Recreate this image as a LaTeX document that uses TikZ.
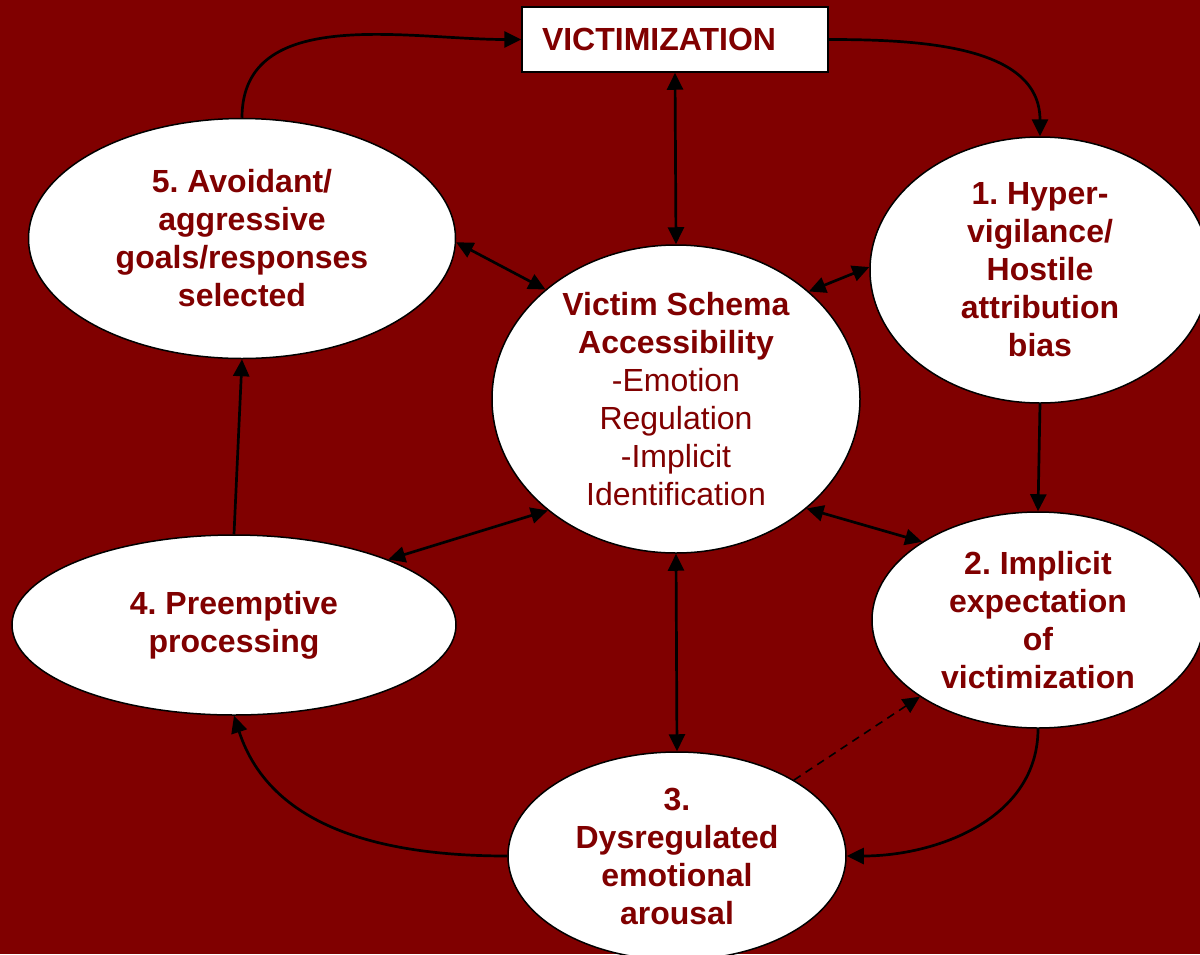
\documentclass[tikz,border=0pt]{standalone}
\usepackage{fontspec}
\setmainfont{Liberation Sans}
\usetikzlibrary{shapes.geometric, arrows.meta}
\definecolor{vred}{RGB}{128,0,0}
\frenchspacing
\begin{document}
\begin{tikzpicture}[x=1pt, y=-1pt, >={Triangle[length=17pt, width=16pt]}]
\fill[vred] (0,0) rectangle (1200,954);
\useasboundingbox (0,0) rectangle (1200,954);
\begin{scope}[every node/.style={draw=black, fill=white, line width=1.5pt, text=vred, font=\fontsize{32}{38}\selectfont\bfseries}]
    \node[rectangle, minimum width=306pt, minimum height=65pt, inner xsep=20pt, text width=266pt, align=left] (victim) at (675,39.5) {VICTIMIZATION};
    \node[ellipse, minimum width=368pt, minimum height=308pt, inner sep=0pt, inner ysep=-10pt, align=center, font=\fontsize{32}{38}\selectfont] (schema) at (676,399) {\textbf{Victim Schema}\\\textbf{Accessibility}\\-Emotion\\Regulation\\-Implicit\\Identification};
    \node[ellipse, minimum width=340pt, minimum height=266pt, inner sep=0pt, align=center] (s1) at (1040,270) {1. Hyper-\\vigilance/\\Hostile\\attribution\\bias};
    \node[ellipse, minimum width=332pt, minimum height=216pt, inner sep=0pt, align=center] (s2) at (1038,620) {2. Implicit\\expectation\\of\\victimization};
    \node[ellipse, minimum width=338pt, minimum height=208pt, inner sep=0pt, align=center] (s3) at (677,856) {3.\\Dysregulated\\emotional\\arousal};
    \node[ellipse, minimum width=444pt, minimum height=180pt, inner sep=0pt, align=center] (s4) at (234,625) {4. Preemptive\\processing};
    \node[ellipse, minimum width=427pt, minimum height=240pt, inner sep=0pt, align=center] (s5) at (242,238.5) {5. Avoidant/\\aggressive\\goals/responses\\selected};
\end{scope}
\begin{scope}[every edge/.style={draw=black, line width=2.7pt}]
    % the cycle
    \path (victim.east) edge[->, out=0, in=90] (s1.north);
    \path (s1.south) edge[->] (s2.north);
    \path (s2.south) edge[->, out=-90, in=0] (s3.east);
    \path (s3.west) edge[->, out=180, in=-72] (s4.south);
    \path (s4.north) edge[->] (s5.south);
    \path (s5.north) edge[->, out=90, in=180] (victim.west);
    % to and from the schema
    \path (victim.south) edge[<->] (schema.north);
    \path (schema.south) edge[<->] (s3.north);
    \path (schema.140) edge[<->] (s5.-1);
    \path (schema.39.5) edge[<->] (s1.179);
    \path (schema.-40) edge[<->] (s2.146);
    \path (schema.221) edge[<->] (s4.23);
    \path (s3.33) edge[->, line width=1.6pt, dash pattern=on 8pt off 6pt] (s2.213.5);
\end{scope}
\end{tikzpicture}
\end{document}
